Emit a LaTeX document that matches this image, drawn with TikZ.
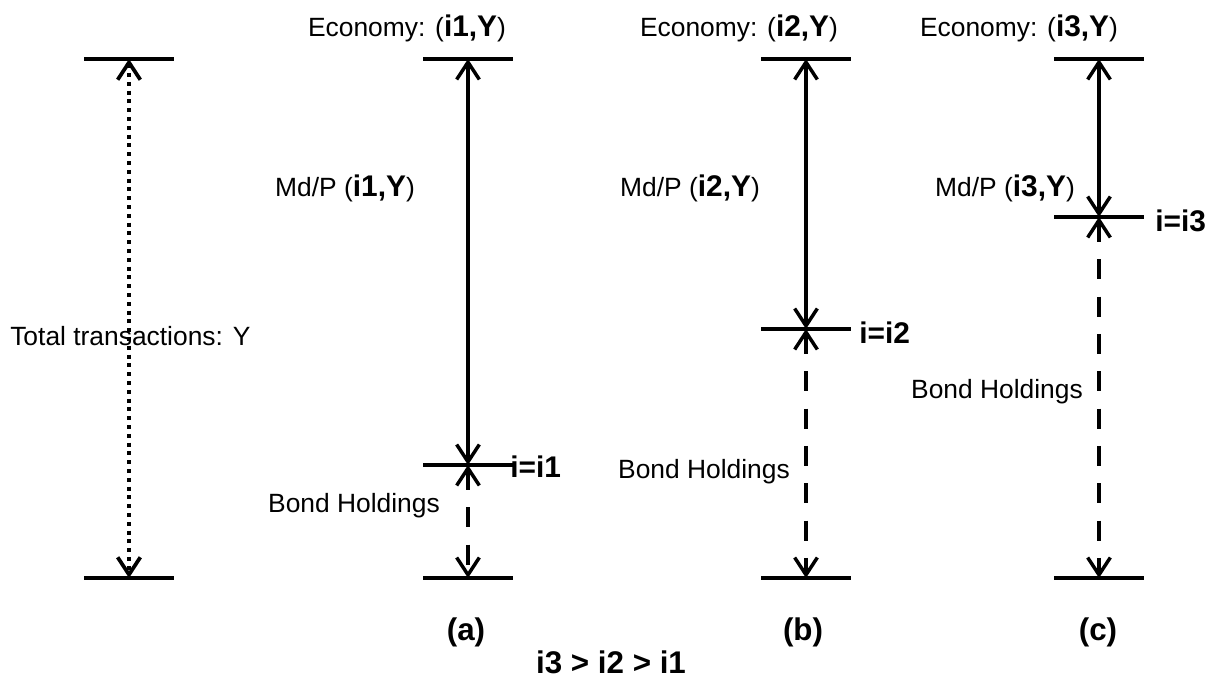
\documentclass[tikz,border=0pt]{standalone}
\usepackage{fontspec}
\setmainfont{Liberation Sans}
\usetikzlibrary{arrows.meta,calc}

\newcommand\bld[1]{{\fontsize{22.4}{24}\selectfont\bfseries #1}}

\begin{document}
\begin{tikzpicture}[x=0.75pt,y=-0.75pt,>={Straight Barb[length=13pt,width=17pt]}]

% ---------- styles ----------
\tikzset{
  bar/.style={line width=3.2pt},
  link/.style={<->, line width=2.6pt},
  total/.style={<->, line width=2.8pt, dash pattern=on 3pt off 3.6pt},
  bond/.style={<->, line width=2.6pt, dash pattern=on 15pt off 13pt},
  txt/.style={font=\fontsize{19.8}{24}\selectfont, inner sep=0pt},
  sublabel/.style={font=\fontsize{23.5}{26}\selectfont\bfseries, inner sep=0pt}
}

\useasboundingbox (0,0) rectangle (1222,683);

% ---------- levels ----------
\coordinate (T0) at (129,59);  \coordinate (B0) at (129,578);
\coordinate (TA) at (468,59);  \coordinate (MA) at (468,465); \coordinate (BA) at (468,578);
\coordinate (TB) at (806,59);  \coordinate (MB) at (806,329); \coordinate (BB) at (806,578);
\coordinate (TC) at (1099,59); \coordinate (MC) at (1099,217); \coordinate (BC) at (1099,578);

% ---------- bars ----------
\foreach \p in {T0,B0,TA,MA,BA,TB,MB,BB,TC,MC,BC}
  \draw[bar] ($(\p)+(-45,0)$) -- ($(\p)+(45,0)$);

% ---------- total ----------
\draw[total] (T0) -- (B0);
\node[txt, anchor=west] (total) at (10,336) {Total transactions: Y};

% ---------- (a) ----------
\draw[link] (TA) -- (MA);
\draw[bond] (MA) -- (BA);
\node[txt] (econA) at (407,28) {Economy: (\bld{i1,Y})};
\node[txt] (mdA) at (345,188) {Md/P (\bld{i1,Y})};
\node[txt, anchor=west] (iA) at (510,467) {\bld{i=i1}};
\node[txt] (bondA) at (354,506) {Bond Holdings};
\node[sublabel] (subA) at (466,632) {(a)};

% ---------- (b) ----------
\draw[link] (TB) -- (MB);
\draw[bond] (MB) -- (BB);
\node[txt] (econB) at (739,28) {Economy: (\bld{i2,Y})};
\node[txt] (mdB) at (690,188) {Md/P (\bld{i2,Y})};
\node[txt, anchor=west] (iB) at (859,333) {\bld{i=i2}};
\node[txt] (bondB) at (704,472) {Bond Holdings};
\node[sublabel] (subB) at (803,632) {(b)};

% ---------- (c) ----------
\draw[link] (TC) -- (MC);
\draw[bond] (MC) -- (BC);
\node[txt] (econC) at (1019,28) {Economy: (\bld{i3,Y})};
\node[txt] (mdC) at (1005,188) {Md/P (\bld{i3,Y})};
\node[txt, anchor=west] (iC) at (1155,221) {\bld{i=i3}};
\node[txt] (bondC) at (997,392) {Bond Holdings};
\node[sublabel] (subC) at (1098,632) {(c)};

% ---------- order ----------
\node[sublabel] (order) at (611,662) {i3 > i2 > i1};

\end{tikzpicture}
\end{document}
